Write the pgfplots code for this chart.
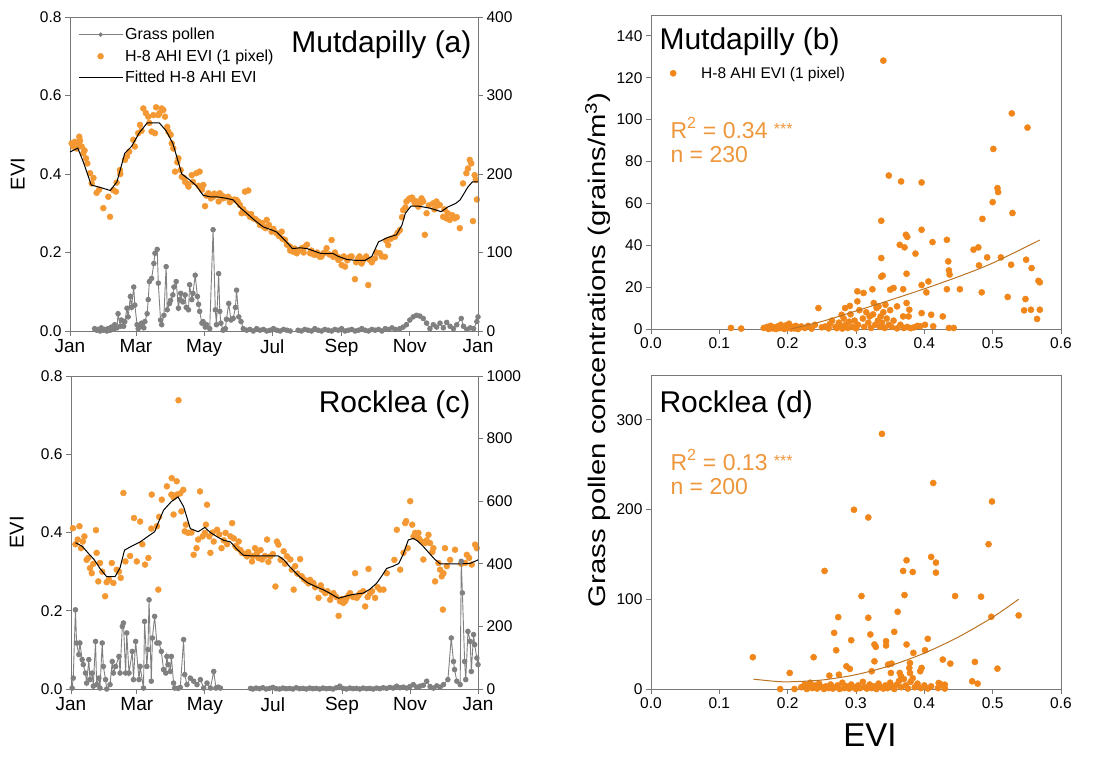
\documentclass[border=0pt]{standalone}
\usepackage{fontspec}
\setmainfont{Liberation Sans}
\usepackage{pgfplots}
\pgfplotsset{compat=1.18}
\definecolor{evior}{RGB}{243,152,50}
\definecolor{scor}{RGB}{240,133,25}
\definecolor{rtxt}{RGB}{238,150,60}
\definecolor{regl}{RGB}{185,115,35}
\definecolor{pol}{RGB}{128,128,128}
\definecolor{axg}{RGB}{120,120,120}
\pgfplotsset{
  base/.style={scale only axis, clip mode=individual,
    axis line style={axg, line width=0.9pt},
    every tick/.style={axg, line width=0.9pt},
    tick align=outside, major tick length=5pt,
    tick label style={font=\fontsize{15.5}{15.5}\selectfont, black},
    /pgf/number format/assume math mode=true,
    /pgf/number format/1000 sep={}},
  evid/.style={only marks, mark=*, mark size=3pt, color=evior},
  pold/.style={pol, line width=0.9pt, mark=*, mark size=2.3pt, unbounded coords=jump},
  scat/.style={only marks, mark=*, mark size=3.1pt, color=scor},
}
\begin{document}
\begin{tikzpicture}
\path[use as bounding box] (0pt,0pt) rectangle (1116pt,758pt);

% ---------------- Panel (a) ----------------
\begin{axis}[base, at={(70pt,427pt)}, anchor=south west, width=408pt, height=314pt,
  xmin=0, xmax=365, ymin=0, ymax=0.8,
  xtick={0,59,120,181,243,304,365}, xticklabels={Jan,Mar,May,Jul,Sep,Nov,Jan},
  xticklabel style={font=\fontsize{19}{19}\selectfont},
  ytick={0,0.2,0.4,0.6,0.8},
  yticklabel style={/pgf/number format/.cd, fixed, fixed zerofill, precision=1},
  xtick pos=bottom, ytick pos=left,
  ylabel={EVI}, ylabel style={font=\fontsize{20}{20}\selectfont, at={(axis description cs:-0.128,0.5)}, anchor=center},
  legend style={at={(0.012,0.978)}, anchor=north west, draw=none, fill=none, font=\fontsize{16}{16}\selectfont, row sep=4.5pt, cells={anchor=west}},
  legend image code/.code={\draw[mark repeat=2,mark phase=2,#1] plot coordinates {(0pt,0pt) (22pt,0pt) (44pt,0pt)};},
]
\addlegendimage{pol, line width=0.9pt, mark=*, mark size=1.7pt}
\addplot[evid] coordinates {
(1.5,0.478)(4.4,0.482)(7.4,0.478)(8.3,0.495)(10.4,0.47)(11.9,0.453)(14.3,0.44)(15.5,0.427)(17.9,0.402)(19.4,0.376)
(23.8,0.352)(29.8,0.313)(35.8,0.291)(34.3,0.342)(38.7,0.359)(41.1,0.355)(41.7,0.378)(44.7,0.41)(49.2,0.436)(53,0.457)
(56.6,0.487)(61,0.504)(62.6,0.525)(65.6,0.567)(67.9,0.555)(70,0.546)(73,0.508)(76,0.504)(74.6,0.55)(79,0.55)
(82,0.567)(83.5,0.563)(85,0.546)(88,0.508)(91,0.478)(92.4,0.465)(94,0.406)(97,0.44)(100,0.393)(103,0.38)
(106,0.368)(108.9,0.397)(113,0.402)(116,0.406)(119.3,0.372)(120.8,0.318)(123.8,0.351)(128.2,0.342)(131.2,0.346)(134,0.351)
(137,0.338)(141.6,0.342)(144.6,0.334)(149,0.334)(152,0.321)(156.5,0.355)(159.5,0.358)(153.5,0.3)(161,0.291)(164,0.287)
(168.5,0.279)(173,0.266)(176,0.283)(180.4,0.253)(184.9,0.249)(189.4,0.253)(192.4,0.232)(196.8,0.215)(199.8,0.202)(202.8,0.198)
(207.3,0.211)(210.3,0.215)(214.8,0.198)(219.3,0.194)(223.6,0.189)(226.6,0.198)(229.6,0.211)(234,0.232)(235.5,0.189)(240,0.181)
(243,0.168)(246,0.164)(250.5,0.189)(254.9,0.132)(257.9,0.185)(260.9,0.172)(263.9,0.185)(266.8,0.117)(268.3,0.181)(272.8,0.185)
(277.2,0.198)(281.7,0.189)(284.7,0.219)(290.6,0.24)(295.1,0.257)(298,0.308)(301,0.33)(304,0.338)(307,0.334)(308.5,0.325)
(311.5,0.317)(314.5,0.338)(317.4,0.245)(319,0.3)(324.8,0.325)(327.8,0.33)(330.8,0.321)(333.8,0.291)(336.7,0.287)(339.7,0.283)
(344.2,0.287)(348.7,0.262)(351.6,0.376)(354.6,0.402)(356,0.414)(357.6,0.436)(359,0.427)(360.5,0.28)(362,0.397)(364,0.335)(363,0.385)
(3,0.47)(6,0.465)(9,0.485)(13,0.46)(21,0.39)(26,0.36)(45,0.4)(51,0.445)(58,0.47)(64,0.51)(71,0.53)(77,0.57)(80,0.555)(87,0.52)
(90,0.5)(96,0.43)(99,0.41)(102,0.39)(105,0.375)(110,0.38)(115,0.37)(118,0.36)(122,0.345)(126,0.338)(129,0.35)(133,0.33)(136,0.345)
(139,0.34)(143,0.328)(147,0.335)(150,0.33)(155,0.31)(158,0.3)(162,0.298)(166,0.285)(170,0.27)(172,0.275)(175,0.262)(178,0.27)
(182,0.26)(187,0.242)(190,0.235)(194,0.22)(197,0.205)(201,0.21)(205,0.205)(209,0.2)(212,0.22)(216,0.205)(218,0.195)(221,0.2)
(225,0.19)(228,0.2)(232,0.195)(237,0.2)(239,0.19)(242,0.185)(245,0.19)(248,0.18)(252,0.19)(256,0.175)(259,0.19)(262,0.18)
(265,0.19)(270,0.175)(274,0.2)(279,0.19)(283,0.23)(287,0.235)(293,0.25)(297,0.29)(300,0.315)(303,0.335)(306,0.34)(310,0.33)
(313,0.325)(316,0.33)(321,0.32)(326,0.31)(329,0.32)(335,0.31)(338,0.3)(342,0.295)(346,0.29)
};
\addplot[black, line width=1pt] coordinates {
(0,0.456)(7,0.466)(12,0.43)(19,0.372)(28,0.365)(36,0.358)(42,0.38)(49,0.453)(55,0.47)(62,0.505)(69,0.53)(80,0.53)
(86,0.51)(92,0.478)(100,0.40)(107,0.385)(113,0.37)(119,0.346)(125,0.342)(131,0.342)(140,0.338)(146,0.334)(152,0.315)
(158,0.30)(166,0.28)(173,0.265)(180,0.258)(185,0.252)(192,0.232)(199,0.21)(206,0.212)(212,0.21)(218,0.204)(224,0.198)
(230,0.197)(235,0.198)(240,0.19)(248,0.182)(256,0.18)(264,0.18)(270,0.19)(276,0.227)(284,0.238)(292,0.245)(297,0.27)
(300,0.30)(305,0.318)(312,0.318)(322,0.313)(332,0.304)(338,0.316)(345,0.325)(349,0.334)(356,0.367)(360,0.38)(365,0.38)
};
\legend{Grass pollen, H-8 AHI EVI (1 pixel), Fitted H-8 AHI EVI}
\end{axis}
\begin{axis}[base, at={(70pt,427pt)}, anchor=south west, width=408pt, height=314pt,
  xmin=0, xmax=365, ymin=0, ymax=400, axis x line=none, axis y line*=right,
  ytick={0,100,200,300,400}]
\addplot[pold] coordinates {
(22,3)(24,1)(25,2)(27,0)(28,4)(30,1)(31,2)(33,0)(34,3)(36,1)(37,5)(39,2)(40,8)(42,4)(43,22)(45,6)(46,14)(48,6)(49,12)(51,29)
(52,18)(54,44)(55,30)(57,56)(58,33)(60,8)(61,3)(63,6)(64,10)(66,4)(67,12)(69,22)
(70,40)(71,63)(73,67)(75,86)(76,99)(78,104)(79,61)(81,14)(82,8)(84,20)(86,82)(87,27)(89,35)(90,39)(92,46)(93,56)(95,63)(97,29)(98,40)(99,48)
(101,37)(103,46)(104,30)(106,27)(107,59)(109,40)(110,48)(112,71)(114,44)(115,34)(116,25)(118,10)(119,12)(121,5)(122,8)(125,3)(128,129)(130,27)(131,8)(133,73)
(134,25)(135,10)(137,1)(139,3)(140,15)(142,35)(144,14)(146,16)(148,30)(149,52)(151,18)(153,12)(155,3)(158,1)(161,2)(164,0)(167,3)(170,1)
(173,2)(176,0)(179,1)(182,3)(185,1)(188,0)(191,2)(194,1)(197,0)(200,nan)(204,1)(207,0)(210,2)(213,1)(216,0)(219,3)
(222,1)(225,0)(228,2)(231,1)(234,0)(237,2)(240,1)(243,3)(246,0)(249,1)(252,2)(255,0)(258,1)(261,3)(264,1)(267,0)
(270,2)(273,1)(276,2)(279,0)(282,3)(285,2)(288,4)(291,2)(295,3)(298,5)(301,8)(304,14)(307,18)(310,20)(313,19)(316,16)
(319,10)(322,3)(325,8)(328,5)(331,10)(334,4)(337,11)(340,6)(343,3)(346,8)(350,16)(352,6)(355,2)(358,4)(361,3)(364,12)(365,18)
};
\end{axis}

% ---------------- Panel (c) ----------------
\begin{axis}[base, at={(71pt,69pt)}, anchor=south west, width=407pt, height=313pt,
  xmin=0, xmax=365, ymin=0, ymax=0.8,
  xtick={0,59,120,181,243,304,365}, xticklabels={Jan,Mar,May,Jul,Sep,Nov,Jan},
  xticklabel style={font=\fontsize{19}{19}\selectfont},
  ytick={0,0.2,0.4,0.6,0.8},
  yticklabel style={/pgf/number format/.cd, fixed, fixed zerofill, precision=1},
  xtick pos=bottom, ytick pos=left,
  ylabel={EVI}, ylabel style={font=\fontsize{20}{20}\selectfont, at={(axis description cs:-0.133,0.5)}, anchor=center},
]
\addplot[evid] coordinates {
(1.7,0.411)(7.6,0.416)(6,0.382)(10.6,0.377)(12,0.39)(15.5,0.335)(17,0.309)(18.6,0.296)(22.4,0.406)(23,0.348)
(24.5,0.275)(26,0.322)(30.6,0.237)(32,0.273)(36.6,0.322)(38,0.271)(41,0.305)(44.6,0.284)(47,0.501)(48.8,0.326)
(56.5,0.437)(59,0.326)(62,0.428)(66.4,0.318)(69.4,0.335)(72.4,0.497)(77,0.416)(78.3,0.254)(81.4,0.484)(86,0.518)
(90.3,0.539)(94.8,0.531)(90,0.497)(95,0.497)(92,0.446)(99,0.454)(100.7,0.509)(96.4,0.738)(102,0.403)(105,0.399)
(110,0.343)(112.6,0.36)(114,0.382)(115.7,0.505)(122,0.471)(120,0.399)(124,0.39)(125,0.348)(128,0.377)(131,0.407)
(135,0.36)(138.6,0.399)(143,0.39)(144.5,0.424)(147.5,0.365)(150.4,0.377)(153.4,0.348)(157.8,0.339)(162.3,0.326)(165,0.36)
(166.8,0.348)(171.3,0.331)(175.8,0.382)(178.8,0.339)(183.3,0.262)(184.7,0.377)(186,0.369)(190.7,0.352)(193.7,0.339)(196.7,0.331)
(201,0.314)(205.5,0.332)(199.7,0.254)(207,0.288)(211.5,0.275)(214.4,0.279)(217.4,0.271)(222,0.233)(225,0.254)(228,0.245)
(232.4,0.228)(235.4,0.245)(240,0.187)(241.3,0.224)(244.3,0.22)(247.3,0.233)(250.3,0.245)(254.8,0.296)(256.3,0.233)(259.3,0.245)
(263.8,0.211)(266.8,0.307)(268.3,0.245)(272.7,0.233)(277.2,0.254)(280.2,0.254)(283.2,0.296)(292.2,0.407)(295.2,0.305)(298.2,0.348)
(299.7,0.424)(300.6,0.429)(304.2,0.48)(307.2,0.39)(308.6,0.399)(311.6,0.399)(314.6,0.377)(316,0.331)(317.6,0.373)(320.6,0.394)
(322,0.373)(325,0.36)(326.5,0.275)(329.5,0.322)(331,0.305)(332.5,0.288)(334,0.296)(333.5,0.203)(335.4,0.36)(337,0.314)
(344.4,0.356)(353.4,0.322)(355,0.343)(359.4,0.318)(362.4,0.369)(363.9,0.36)
(4,0.37)(9,0.36)(14,0.33)(20,0.32)(28,0.3)(34,0.28)(43,0.3)(53,0.34)(64,0.37)(72,0.41)(79,0.44)(92,0.49)(98,0.5)(103,0.42)
(108,0.4)(118,0.39)(121,0.42)(127,0.4)(133,0.395)(137,0.38)(140,0.37)(146,0.385)(149,0.36)(152,0.355)(156,0.345)(159,0.35)
(163,0.34)(168,0.335)(170,0.355)(174,0.34)(177,0.325)(181,0.345)(188,0.33)(192,0.32)(198,0.305)(203,0.295)(209,0.28)(213,0.27)
(219,0.26)(224,0.265)(230,0.25)(234,0.24)(238,0.235)(243,0.23)(246,0.225)(249,0.24)(253,0.235)(258,0.24)(262,0.25)(266,0.235)
(270,0.25)(275,0.26)(290,0.33)(302,0.36)(306,0.42)(312,0.385)(319,0.38)(324,0.35)(340,0.33)(350,0.32)(357,0.335)
};
\addplot[black, line width=1pt] coordinates {
(4,0.374)(10,0.365)(15.5,0.347)(21,0.33)(26,0.308)(32,0.287)(39.5,0.287)(44,0.31)(48,0.355)(55,0.366)(62,0.376)(69,0.39)
(75,0.402)(79,0.43)(83,0.457)(90,0.479)(96,0.491)(101,0.466)(107,0.41)(114,0.402)(120,0.413)(125,0.4)(131,0.389)(137,0.38)
(143,0.376)(148,0.36)(154.5,0.342)(163,0.34)(172,0.34)(186,0.34)(191,0.33)(196,0.313)(205,0.287)(212,0.272)(220,0.261)
(226,0.254)(232,0.245)(236,0.238)(240,0.232)(245,0.236)(250,0.24)(256,0.243)(262,0.245)(268,0.255)(274,0.27)(279,0.29)
(283,0.308)(289,0.314)(294,0.321)(298,0.345)(302.5,0.381)(307,0.385)(311,0.378)(316,0.364)(321,0.348)(326,0.332)(331,0.32)
(340,0.32)(350,0.32)(358,0.321)(365,0.33)
};
\end{axis}
\begin{axis}[base, at={(71pt,69pt)}, anchor=south west, width=407pt, height=313pt,
  xmin=0, xmax=365, ymin=0, ymax=1000, axis x line=none, axis y line*=right,
  ytick={0,200,400,600,800,1000}]
\addplot[pold] coordinates {
(1,3)(2,35)(4,253)(5,147)(7,110)(8,147)(10,94)(11,78)(13,51)(14,19)(16,94)(17,30)(19,51)(20,9)(22,152)(23,14)(25,35)
(26,3)(28,147)(29,72)(31,30)(32,0)(35,14)(37,88)(38,51)(40,72)(43,104)(44,51)(46,200)(47,211)(49,51)(50,179)(52,51)
(55,120)(56,30)(58,152)(61,30)(62,72)(65,3)(66,216)(68,72)(69,126)(70,285)(72,25)(73,163)(75,232)(77,147)(79,147)
(81,120)(83,62)(85,51)(86,104)(87,78)(89,56)(90,104)(92,19)(93,3)(96,2)(98,5)(101,158)(102,46)(104,14)(107,35)(110,25)
(113,14)(116,30)(119,3)(122,19)(125,3)(128,56)(130,3)(132,6)(134,3)(145,nan)
(161,2)(163,0)(166,3)(169,1)(172,4)(175,0)(178,2)(181,5)(184,1)(187,0)(190,3)(193,1)(196,2)(199,0)(202,4)(205,1)(208,2)
(211,0)(214,3)(217,1)(220,2)(223,0)(226,3)(229,1)(232,2)(235,0)(238,4)(241,9)(244,2)(247,0)(250,3)(253,1)(256,2)(259,0)
(262,3)(265,1)(268,2)(271,0)(274,3)(277,1)(280,4)(283,2)(286,5)(289,3)(292,9)(295,4)(298,6)(301,3)(304,8)(307,14)(310,6)
(313,9)(316,12)(319,25)(322,8)(325,3)(328,10)(331,6)(334,14)(338,30)(341,163)(343,88)(344,62)(346,25)(349,14)(350,408)
(351,307)(353,88)(354,30)(356,184)(358,152)(359,56)(361,174)(362,142)(364,99)(365,78)
};
\end{axis}

% ---------------- Panel (b) ----------------
\begin{axis}[base, at={(651pt,429pt)}, anchor=south west, width=410pt, height=314pt,
  xmin=0, xmax=0.6, ymin=0, ymax=150,
  xtick={0,0.1,...,0.6}, ytick={0,20,...,140},
  xticklabel style={/pgf/number format/.cd, fixed, fixed zerofill, precision=1},
  xtick pos=bottom, ytick pos=left,
  legend style={at={(0.017,0.848)}, anchor=north west, draw=none, fill=none, font=\fontsize{15.5}{15.5}\selectfont},
  legend image code/.code={\path[draw=none] (0pt,0pt) -- (38pt,0pt); \draw[#1] plot coordinates {(12pt,0pt)};},
]
\addplot[scat] coordinates {
(0.340,128.2)(0.348,73.3)(0.366,70.5)(0.396,70)(0.337,51.7)(0.373,45)(0.375,44)(0.396,47.4)(0.412,41.5)(0.433,42.6)
(0.364,40.2)(0.371,39)(0.387,36)(0.337,33.9)(0.337,25)(0.339,25.5)(0.374,26.4)(0.435,32.3)(0.436,28)(0.437,26)
(0.406,22.7)(0.403,17.5)(0.396,21)(0.369,19)(0.355,19.6)(0.35,18.8)(0.324,19)(0.302,18)(0.311,17.2)(0.302,13.2)
(0.433,19)(0.452,19)(0.472,37.9)(0.479,39)(0.48,30.4)(0.484,17.5)(0.485,52.6)(0.492,34.2)(0.501,86)(0.5,60.6)
(0.507,67.3)(0.508,65.4)(0.512,34.2)(0.528,103)(0.529,55.4)(0.527,30.7)(0.522,15.3)(0.551,96.2)(0.549,33.1)(0.557,29.1)
(0.567,23)(0.569,22.3)(0.548,14.3)(0.546,8.9)(0.556,9.2)(0.569,9.2)(0.565,4.8)(0.245,10)(0.284,10)(0.279,6.8)
(0.291,11)(0.326,12.4)(0.333,10.8)(0.343,11.6)(0.36,10.8)(0.374,12.4)(0.378,9.2)(0.377,6)(0.369,6)(0.396,7.6)
(0.41,6.8)(0.427,6)(0.413,1.3)(0.394,1.3)(0.401,2)(0.436,0.5)(0.443,0.5)(0.117,0.5)(0.132,0.2)
(0.165,0.5)(0.17,1)(0.172,0)(0.175,1.5)(0.178,0.3)(0.18,0.8)(0.183,0)(0.185,1.2)(0.188,0.4)(0.19,2)(0.192,0.6)(0.195,0)
(0.198,1.8)(0.2,0.5)(0.202,2.5)(0.205,0.2)(0.208,1)(0.21,0.3)(0.212,1.5)(0.215,0)(0.218,0.7)(0.22,1.2)
(0.225,0.5)(0.23,1.5)(0.235,0.2)(0.24,2)(0.25,0.8)(0.255,1.2)(0.26,0.3)(0.262,2.5)(0.265,4)(0.27,1)(0.272,0.4)(0.275,3)
(0.278,1.5)(0.28,0.2)(0.282,5)(0.285,2)(0.288,0.5)(0.29,3.5)(0.292,7)(0.295,1)(0.298,4)(0.3,0.3)(0.303,2)(0.305,9)
(0.31,5)(0.312,1)(0.315,8)(0.318,3)(0.32,6)(0.322,0.5)(0.325,7)(0.328,2)(0.33,10)(0.332,4)(0.335,1)(0.336,6)(0.338,3)
(0.34,8)(0.342,0.5)(0.345,5)(0.348,2)(0.35,9)(0.352,1)(0.355,4)(0.36,0.3)(0.365,2)(0.37,0.5)(0.375,1)(0.38,0.4)(0.385,0.8)(0.39,1.5)
};
\addplot[regl, line width=1pt, smooth] coordinates {
(0.204,0)(0.25,3.6)(0.30,8.6)(0.35,13.8)(0.40,19.2)(0.45,25)(0.50,31.5)(0.569,42.5)
};
\legend{H-8 AHI EVI (1 pixel)}
\end{axis}

% ---------------- Panel (d) ----------------
\begin{axis}[base, at={(651pt,69pt)}, anchor=south west, width=410pt, height=314pt,
  xmin=0, xmax=0.6, ymin=0, ymax=350,
  xtick={0,0.1,...,0.6}, ytick={0,100,200,300},
  xticklabel style={/pgf/number format/.cd, fixed, fixed zerofill, precision=1},
  xtick pos=bottom, ytick pos=left,
]
\addplot[scat] coordinates {
(0.338,284.4)(0.413,229.6)(0.297,199.8)(0.318,191.2)(0.499,209)(0.494,161.4)(0.254,131.6)(0.374,143.5)(0.369,131.6)(0.383,130.4)
(0.41,147.2)(0.417,140.9)(0.417,129.7)(0.308,103.6)(0.371,104.7)(0.445,103.6)(0.483,102.9)(0.361,86.1)(0.498,80.5)(0.538,82)
(0.274,80.1)(0.318,79.4)(0.268,62.6)(0.321,60.8)(0.293,54.4)(0.271,43.2)(0.327,49.6)(0.329,47)(0.344,53.3)(0.344,48.5)
(0.356,63.7)(0.374,49.6)(0.405,55.9)(0.401,43.2)(0.384,40.3)(0.238,35.4)(0.149,35.4)(0.427,32.8)(0.438,28.3)(0.474,30.2)
(0.507,22.7)(0.286,25.3)(0.291,22.4)(0.327,30.9)(0.323,19.8)(0.347,27.2)(0.352,28.3)(0.351,17.9)(0.379,29)(0.378,23.5)
(0.379,17.9)(0.396,23.5)(0.394,19.8)(0.364,17.9)(0.366,14.2)(0.203,17.9)(0.261,14.9)(0.275,16)(0.47,8.6)(0.478,6)
(0.421,6.7)(0.43,4.8)(0.189,0)(0.21,0)
(0.22,2)(0.225,5)(0.228,0)(0.23,3)(0.233,7)(0.236,1)(0.24,4)(0.243,0.5)(0.246,6)(0.25,2)(0.253,0)(0.256,3)(0.26,1)(0.263,5)
(0.266,0.5)(0.27,2)(0.273,4)(0.276,0)(0.28,7)(0.283,1)(0.286,3)(0.29,0.5)(0.293,5)(0.296,2)(0.3,0)(0.303,4)(0.306,1)(0.31,8)
(0.313,2)(0.316,0.5)(0.32,5)(0.323,1)(0.326,3)(0.33,0)(0.333,6)(0.336,2)(0.34,0.5)(0.343,4)(0.346,1)(0.35,7)(0.353,3)(0.356,0)
(0.36,5)(0.363,9)(0.366,2)(0.37,11)(0.373,4)(0.376,0.5)(0.38,8)(0.383,12)(0.386,2)(0.39,6)(0.395,1)(0.4,4)(0.405,0.5)(0.41,3)
(0.42,1)(0.425,5)(0.43,0.5)
};
\addplot[regl, line width=1pt, smooth] coordinates {
(0.15,11)(0.175,9)(0.2,8)(0.25,10)(0.3,16)(0.35,26)(0.4,40)(0.45,58)(0.5,80)(0.538,100)
};
\end{axis}

% ---------------- Texts ----------------
\node[anchor=east, font=\fontsize{30}{30}\selectfont] at (475pt,713pt) {Mutdapilly (a)};
\node[anchor=east, font=\fontsize{30}{30}\selectfont] at (474pt,353pt) {Rocklea (c)};
\node[anchor=west, font=\fontsize{30}{30}\selectfont] at (656pt,716pt) {Mutdapilly (b)};
\node[anchor=west, font=\fontsize{30}{30}\selectfont] at (656pt,353pt) {Rocklea (d)};
\node[anchor=west, text=rtxt, font=\fontsize{23}{23}\selectfont] at (667pt,630pt) {R\textsuperscript{2} = 0.34 {\fontsize{16}{16}\selectfont\raisebox{4pt}{***}}};
\node[anchor=west, text=rtxt, font=\fontsize{23}{23}\selectfont] at (667pt,603pt) {n = 230};
\node[anchor=west, text=rtxt, font=\fontsize{23}{23}\selectfont] at (667pt,298pt) {R\textsuperscript{2} = 0.13 {\fontsize{16}{16}\selectfont\raisebox{4pt}{***}}};
\node[anchor=west, text=rtxt, font=\fontsize{23}{23}\selectfont] at (667pt,271pt) {n = 200};
\node[rotate=90, font=\fontsize{24}{24}\selectfont] at (598pt,408pt) {\scalebox{1.22}[1]{Grass pollen concentrations (grains/m\textsuperscript{3})}};
\node[font=\fontsize{33}{33}\selectfont] at (870pt,23pt) {EVI};
\end{tikzpicture}
\end{document}
